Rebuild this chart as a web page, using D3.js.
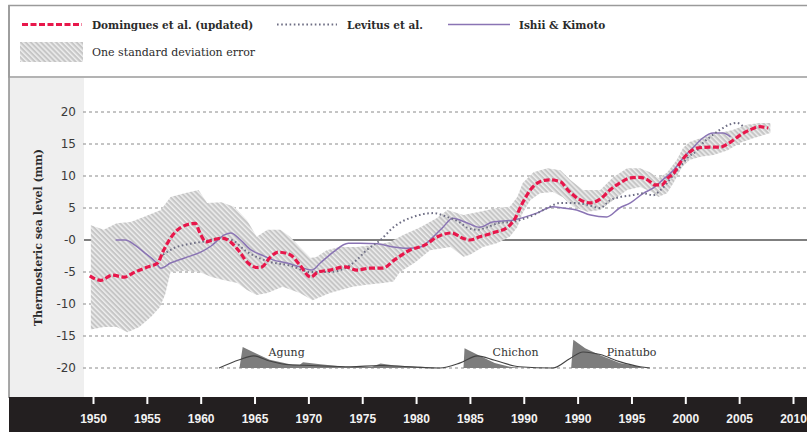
<!DOCTYPE html>
<html><head><meta charset="utf-8">
<script src="https://cdn.jsdelivr.net/npm/d3@7"></script>
<style>html,body{margin:0;padding:0;background:#fff;overflow:hidden}</style>
</head><body>
<svg id="chart" width="807" height="432"></svg>
<script>
// ---------- data (x = position on the printed year axis) ----------
const xTickValues = [1950,1955,1960,1965,1970,1975,1980,1985,1990,1995,2000,2005,2010,2015];
const xTickLabels = ["1950","1955","1960","1965","1970","1975","1980","1985","1990","1990","1995","2000","2005","2010"];
const yTickValues = [20,15,10,5,0,-5,-10,-15,-20];
const yTickLabels = ["20","15","10","5","-0","-5","-10","-15","-20"];

const seriesNames = ["Domingues et al. (updated)","Levitus et al.","Ishii & Kimoto"];
const bandName = "One standard deviation error";
const volcanoNames = ["Agung","Chichon","Pinatubo"];
const volcanoLabelYears = [1966.3,1987.1,1997.7];

const domingues = [[1949.7,-5.6],[1950.7,-6.3],[1951.8,-5.5],[1952.9,-5.8],[1953.9,-5.0],[1955.1,-4.2],[1956.0,-3.6],[1956.5,-1.8],[1957.2,0.3],[1958.1,1.9],[1959.5,2.6],[1959.9,1.2],[1960.5,-0.3],[1961.1,0],[1962.0,0.3],[1962.7,-0.2],[1963.5,-1.6],[1964.4,-3.6],[1965.2,-4.3],[1965.7,-4.2],[1966.4,-2.8],[1967.2,-1.9],[1968.3,-2.3],[1969.2,-3.9],[1970.2,-5.8],[1970.9,-5.0],[1972.0,-4.7],[1973.4,-4.2],[1974.5,-4.7],[1975.7,-4.4],[1976.9,-4.4],[1978.0,-3.1],[1979.4,-1.6],[1980.8,-0.8],[1982.0,0.5],[1983.3,1.1],[1984.3,0.3],[1985.0,0],[1985.9,0.5],[1987.3,1.2],[1988.5,2.0],[1989.2,3.4],[1989.8,5.5],[1990.6,7.8],[1991.5,9.1],[1992.4,9.4],[1993.4,9.1],[1994.1,7.8],[1995.0,6.5],[1996.2,5.8],[1997.1,6.4],[1998.0,7.8],[1998.9,8.9],[1999.9,9.7],[2000.8,9.8],[2001.5,9.4],[2002.2,8.6],[2002.8,8.6],[2003.4,9.7],[2004.0,10.6],[2004.5,12.0],[2005.3,13.6],[2006.2,14.4],[2007.3,14.5],[2008.2,14.5],[2009.2,15.3],[2010.1,16.4],[2011.0,17.2],[2011.9,17.7],[2012.7,17.5]];

const levitus = [[1956.5,-2.3],[1957.6,-1.2],[1959.0,-0.6],[1960.4,-0.2],[1961.8,0.3],[1962.9,0],[1964.1,-1.6],[1965.0,-2.5],[1966.4,-3.4],[1968.3,-4.0],[1970.2,-5.0],[1972.0,-5.0],[1973.4,-4.4],[1974.5,-3.1],[1975.4,-1.6],[1976.7,0],[1977.9,2.0],[1979.7,3.6],[1981.6,4.2],[1982.9,3.6],[1984.1,2.7],[1984.8,1.9],[1985.7,1.6],[1986.6,2.0],[1987.8,2.7],[1988.7,2.8],[1989.6,3.1],[1990.9,3.9],[1992.2,5.0],[1993.4,5.8],[1994.6,5.8],[1995.9,5.5],[1997.1,5.0],[1998.0,6.2],[1998.9,6.7],[2000.1,7.0],[2001.1,7.3],[2002.0,7.0],[2002.7,7.8],[2003.3,8.9],[2003.9,10.2],[2004.5,11.4],[2005.3,13.0],[2006.1,14.0],[2006.6,15.1],[2007.3,16.1],[2008.2,17.2],[2009.2,18.1],[2009.8,18.3],[2010.4,17.7]];

const ishii = [[1952.1,0],[1953.0,0],[1953.9,-0.8],[1954.8,-2.0],[1955.8,-3.4],[1956.3,-4.4],[1957.2,-3.6],[1958.5,-2.8],[1960.0,-1.9],[1961.0,-0.9],[1962.2,0.8],[1962.8,1.1],[1963.7,0],[1964.7,-1.6],[1965.6,-2.3],[1966.7,-3.1],[1968.0,-3.6],[1969.2,-4.2],[1970.3,-4.7],[1971.1,-3.6],[1972.3,-1.9],[1973.7,-0.5],[1974.8,-0.5],[1976.4,-0.6],[1977.9,-1.1],[1979.2,-1.3],[1980.4,-1.1],[1981.6,0.5],[1982.5,2.0],[1983.4,3.4],[1984.7,2.7],[1985.9,2.0],[1987.1,2.8],[1989.0,3.1],[1991.2,4.2],[1992.7,5.2],[1993.6,5.0],[1994.9,4.7],[1996.2,3.9],[1997.7,3.6],[1998.9,5.0],[1999.9,5.8],[2001.1,7.3],[2002.0,8.1],[2002.9,9.4],[2003.9,10.9],[2004.8,12.8],[2005.7,14.4],[2006.6,15.9],[2007.6,16.7],[2008.5,16.7],[2009.2,16.1]];

const bandUpper = [[1949.8,2.3],[1951.0,1.6],[1952.2,2.6],[1953.5,2.8],[1954.7,3.6],[1956.3,4.7],[1957.2,6.7],[1958.5,7.3],[1959.8,7.8],[1960.6,5.8],[1961.9,5.9],[1963.1,5.2],[1964.3,3.1],[1965.2,0.5],[1966.2,1.6],[1967.4,1.6],[1968.3,0.5],[1969.2,-1.1],[1970.2,-2.8],[1970.8,-2.6],[1971.7,-1.6],[1972.9,-1.1],[1974.5,-1.1],[1976.0,-0.8],[1977.6,-0.3],[1978.8,0.8],[1980.4,2.0],[1981.9,3.4],[1982.9,4.7],[1984.4,3.9],[1985.9,4.4],[1987.5,5.0],[1988.7,5.2],[1989.4,6.7],[1989.9,8.9],[1990.9,10.6],[1992.2,11.2],[1993.4,10.9],[1994.3,9.4],[1995.5,7.8],[1997.1,7.8],[1998.3,9.8],[1999.6,11.2],[2000.8,11.2],[2001.7,10.6],[2002.5,9.7],[2003.3,10.5],[2004.2,12.5],[2004.8,14.4],[2005.4,15.3],[2006.4,15.9],[2007.3,16.4],[2008.2,16.7],[2009.4,17.2],[2010.7,18.0],[2011.9,18.3],[2012.9,18.3]];

const bandLower = [[1949.8,-14.0],[1951.0,-13.6],[1952.2,-13.6],[1953.2,-14.4],[1954.3,-13.6],[1955.4,-12.0],[1956.2,-10.5],[1956.7,-8.5],[1957.2,-5.0],[1958.5,-4.8],[1959.9,-5.0],[1961.0,-5.8],[1962.2,-6.3],[1963.4,-6.7],[1964.3,-7.8],[1965.2,-8.6],[1966.2,-8.3],[1967.6,-7.3],[1969.2,-8.3],[1970.4,-9.4],[1972.0,-8.3],[1974.1,-7.3],[1975.4,-7.0],[1976.9,-6.7],[1977.9,-6.5],[1978.5,-5.0],[1979.9,-3.5],[1981.3,-1.6],[1983.2,-1.1],[1984.4,-2.6],[1985.0,-2.3],[1986.2,-1.1],[1987.5,-0.5],[1988.7,0.5],[1989.4,2.0],[1989.9,4.2],[1990.6,6.2],[1991.5,7.3],[1992.7,7.5],[1993.6,6.7],[1994.6,5.2],[1995.9,4.4],[1997.1,4.7],[1998.3,6.2],[1999.6,7.8],[2000.8,8.3],[2001.9,7.5],[2002.5,6.7],[2003.3,7.3],[2003.9,8.9],[2004.7,11.4],[2005.4,12.5],[2006.4,13.0],[2007.6,13.3],[2008.9,14.0],[2010.1,15.2],[2011.3,15.9],[2012.9,16.7]];

const volcanicFill = [[1963.6,-20],[1963.9,-16.7],[1965.0,-17.6],[1966.4,-18.7],[1968.3,-19.4],[1969.2,-19.5],[1969.5,-19.1],[1971.1,-19.4],[1973.4,-19.8],[1975.9,-19.8],[1976.7,-19.3],[1978.0,-19.6],[1980.4,-19.8],[1982.2,-20],[1984.4,-20],[1984.5,-16.9],[1985.9,-18.1],[1987.3,-19.2],[1988.7,-19.8],[1989.7,-20],[1994.4,-20],[1994.6,-15.6],[1995.7,-16.9],[1997.1,-18.0],[1998.9,-19.2],[2000.8,-19.8],[2001.0,-20]];

const volcanicSmooth = [[1961.7,-20],[1963.6,-18.7],[1964.9,-18.1],[1966.4,-18.9],[1968.3,-19.5],[1970.2,-19.6],[1973.9,-19.8],[1976.6,-19.6],[1980.4,-19.9],[1982.2,-20],[1984.1,-19.2],[1985.7,-18.1],[1987.3,-18.8],[1989.6,-19.8],[1992.7,-20],[1994.3,-18.5],[1995.5,-17.5],[1997.1,-17.9],[1998.9,-19.0],[2000.8,-19.8],[2001.7,-20]];

// ---------- drawing ----------
const svg = d3.select("#chart");
const W = 807, H = 432;
const x = d3.scaleLinear().domain([1950, 2015]).range([93, 793]);
const y = d3.scaleLinear().domain([-20, 20]).range([368, 112]);

const serif = "'DejaVu Serif', serif";
const sans = "'DejaVu Sans', sans-serif";

const defs = svg.append("defs");
const pat = defs.append("pattern").attr("id","hatch").attr("patternUnits","userSpaceOnUse")
  .attr("width",3.6).attr("height",3.6).attr("patternTransform","rotate(-45)");
pat.append("rect").attr("width",3.6).attr("height",3.6).attr("fill","#c6c6c6");
pat.append("rect").attr("x",0).attr("width",1.5).attr("height",3.6).attr("fill","#eeeeee");

// background panels
svg.append("rect").attr("x",0).attr("y",0).attr("width",W).attr("height",H).attr("fill","#fff");
svg.append("rect").attr("x",9).attr("y",78).attr("width",75).attr("height",320).attr("fill","#efefef");
svg.append("line").attr("x1",9).attr("x2",9).attr("y1",5).attr("y2",398).attr("stroke","#8c8c8c").attr("stroke-width",1.5);

// legend box
svg.append("rect").attr("x",9).attr("y",5.5).attr("width",W).attr("height",71.5)
  .attr("fill","none").attr("stroke","#9a9a9a").attr("stroke-width",1.5);

// gridlines
svg.append("g").selectAll("line").data(yTickValues.filter(d => d !== 0)).join("line")
  .attr("x1",83).attr("x2",W).attr("y1",d=>y(d)).attr("y2",d=>y(d))
  .attr("stroke","#8a8a8a").attr("stroke-width",1).attr("stroke-dasharray","3,3");
svg.append("line").attr("x1",84).attr("x2",W).attr("y1",y(0)).attr("y2",y(0))
  .attr("stroke","#555").attr("stroke-width",1.6);

// y axis labels
const yAxis = d3.axisLeft(y).tickValues(yTickValues).tickFormat((d,i)=>yTickLabels[i]).tickSize(0).tickPadding(0);
const gy = svg.append("g").attr("transform","translate(76,0)").call(yAxis);
gy.select(".domain").remove();
gy.selectAll("text").attr("font-family",sans).attr("font-size",12).attr("fill","#3a3a3a");

// y title
svg.append("text").attr("transform","translate(42,237.5) rotate(-90)").attr("text-anchor","middle")
  .attr("font-family",serif).attr("font-weight","bold").attr("font-size",11).attr("fill","#2b2b2b")
  .text("Thermosteric sea level (mm)");

// error band
const lineGen = d3.line().x(d=>x(d[0])).y(d=>y(d[1]));
svg.append("path").attr("d", lineGen(bandUpper.concat(bandLower.slice().reverse())) + "Z")
  .attr("fill","url(#hatch)").attr("stroke","none");

// volcanic aerosols
const areaGen = d3.area().x(d=>x(d[0])).y0(y(-20)).y1(d=>y(d[1]));
svg.append("path").attr("d", areaGen(volcanicFill)).attr("fill","#7d7d7d");
svg.append("path").attr("d", d3.line().x(d=>x(d[0])).y(d=>y(d[1])).curve(d3.curveMonotoneX)(volcanicSmooth))
  .attr("fill","none").attr("stroke","#444").attr("stroke-width",1.1);
svg.append("g").selectAll("text").data(volcanoNames).join("text")
  .attr("x",(d,i)=>x(volcanoLabelYears[i])).attr("y",y(-18.1))
  .attr("font-family",serif).attr("font-size",11).attr("fill","#333").text(d=>d);

// series lines
const smooth = d3.line().x(d=>x(d[0])).y(d=>y(d[1])).curve(d3.curveMonotoneX);
const styles = [
  {stroke:"#e8174b", width:3.2, dash:"6,2.5"},
  {stroke:"#6e6e84", width:2, dash:"1.6,2.6"},
  {stroke:"#8a74b4", width:1.5, dash:null}
];
svg.append("path").attr("d", smooth(ishii)).attr("fill","none")
  .attr("stroke",styles[2].stroke).attr("stroke-width",styles[2].width);
svg.append("path").attr("d", smooth(levitus)).attr("fill","none")
  .attr("stroke",styles[1].stroke).attr("stroke-width",styles[1].width).attr("stroke-dasharray",styles[1].dash);
svg.append("path").attr("d", smooth(domingues)).attr("fill","none")
  .attr("stroke",styles[0].stroke).attr("stroke-width",styles[0].width).attr("stroke-dasharray",styles[0].dash);

// legend
const legX = [[22,82,92],[277,337,347],[448,510,519]];
seriesNames.forEach((name,i)=>{
  const s = styles[i];
  const l = svg.append("line").attr("x1",legX[i][0]).attr("x2",legX[i][1]).attr("y1",24.5).attr("y2",24.5)
    .attr("stroke",s.stroke).attr("stroke-width",s.width);
  if (s.dash) l.attr("stroke-dasharray",s.dash);
  svg.append("text").attr("x",legX[i][2]).attr("y",28.5).attr("font-family",serif).attr("font-weight","bold")
    .attr("font-size",10.5).attr("fill","#2b2b2b").text(name);
});
svg.append("rect").attr("x",20).attr("y",42).attr("width",63).attr("height",20).attr("fill","url(#hatch)");
svg.append("text").attr("x",92).attr("y",56).attr("font-family",serif).attr("font-size",11)
  .attr("fill","#2b2b2b").text(bandName);

// bottom axis band
svg.append("rect").attr("x",9).attr("y",397).attr("width",W).attr("height",H-397).attr("fill","#231f20");
const xAxis = d3.axisBottom(x).tickValues(xTickValues).tickFormat((d,i)=>xTickLabels[i]).tickSize(7).tickPadding(10);
const gx = svg.append("g").attr("transform","translate(0,397)").call(xAxis);
gx.select(".domain").remove();
gx.selectAll(".tick line").attr("stroke","#fff").attr("stroke-width",2);
gx.selectAll(".tick text").attr("fill","#f2f2f2").attr("font-family","'Liberation Sans', Arial, sans-serif")
  .attr("font-weight","bold").attr("font-size",12);
</script>
</body></html>
